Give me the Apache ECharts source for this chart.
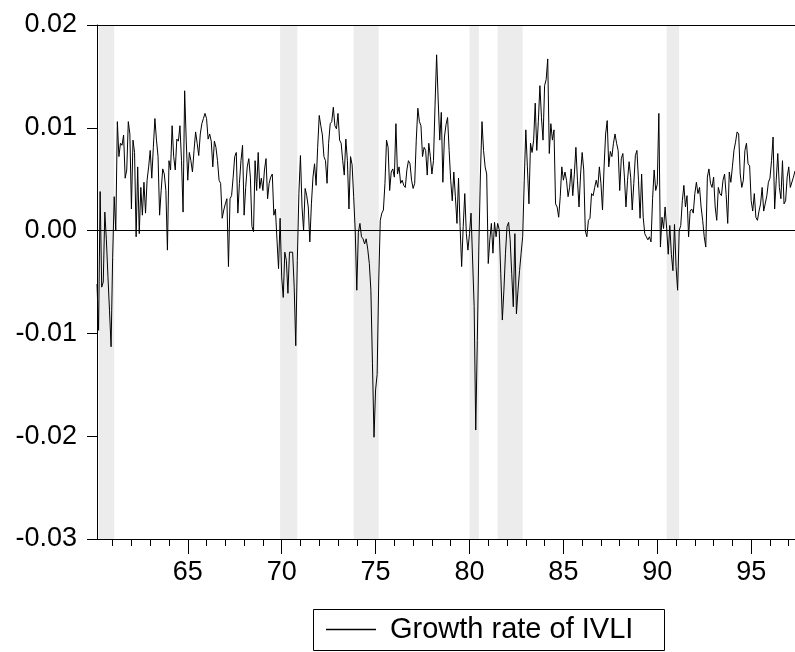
<!DOCTYPE html>
<html>
<head>
<meta charset="utf-8">
<script src="https://cdn.jsdelivr.net/npm/echarts@6/dist/echarts.min.js"></script>
<style>
  html, body { margin: 0; padding: 0; background: #ffffff; }
  #chart { width: 795px; height: 652px; }
</style>
</head>
<body>
<div id="chart"></div>
<script>
// Monthly growth rate of IVLI, first observation March 1960 (two-digit years on the axis)
const seriesName = 'Growth rate of IVLI';
const firstYear = 60;
const firstMonth = 3;

// Mar 1960 - Dec 1969
const g1960s = [
  -0.0052, -0.0097, 0.0038, -0.0055, -0.0050, 0.0018, -0.0009, -0.0045, -0.0078, -0.0113,
  -0.0026, 0.0033, 0.0000, 0.0106, 0.0072, 0.0085, 0.0083, 0.0093, 0.0051, 0.0059,
  0.0106, 0.0094, 0.0021, 0.0088, 0.0076, -0.0006, 0.0062, -0.0003, 0.0042, 0.0015,
  0.0047, 0.0017, 0.0049, 0.0062, 0.0078, 0.0051, 0.0081, 0.0109, 0.0088, 0.0072,
  0.0015, 0.0039, 0.0060, 0.0055, 0.0039, -0.0019, 0.0068, 0.0059, 0.0102, 0.0072,
  0.0059, 0.0089, 0.0087, 0.0102, 0.0068, 0.0018, 0.0136, 0.0088, 0.0049, 0.0076,
  0.0068, 0.0057, 0.0078, 0.0096, 0.0085, 0.0073, 0.0094, 0.0104, 0.0109, 0.0114,
  0.0109, 0.0089, 0.0094, 0.0087, 0.0062, 0.0087, 0.0081, 0.0068, 0.0049, 0.0046,
  0.0012, 0.0020, 0.0026, 0.0031, -0.0035, 0.0031, 0.0034, 0.0052, 0.0072, 0.0076,
  0.0017, 0.0046, 0.0068, 0.0083, 0.0015, 0.0042, 0.0062, 0.0070, 0.0052, 0.0004,
  -0.0001, 0.0068, 0.0039, 0.0076, 0.0041, 0.0051, 0.0039, 0.0059, 0.0070, 0.0031,
  0.0046, 0.0052, 0.0055, 0.0015, 0.0021, -0.0009, -0.0037, 0.0012
];

// Jan 1970 - Dec 1979
const g1970s = [
  -0.0045, -0.0065, -0.0021, -0.0029, -0.0061, -0.0021, -0.0020, -0.0021, -0.0055, -0.0112,
  -0.0029, 0.0036, 0.0073, 0.0023, 0.0000, 0.0041, 0.0034, 0.0023, -0.0011, 0.0026,
  0.0052, 0.0065, 0.0044, 0.0081, 0.0112, 0.0102, 0.0093, 0.0072, 0.0068, 0.0046,
  0.0085, 0.0104, 0.0106, 0.0120, 0.0102, 0.0099, 0.0114, 0.0088, 0.0085, 0.0068,
  0.0054, 0.0089, 0.0068, 0.0021, 0.0072, 0.0064, 0.0033, 0.0000, -0.0058, -0.0002,
  0.0007, -0.0006, -0.0008, -0.0013, -0.0008, -0.0018, -0.0032, -0.0058, -0.0129, -0.0201,
  -0.0155, -0.0140, -0.0050, 0.0010, 0.0017, 0.0020, 0.0046, 0.0088, 0.0081, 0.0039,
  0.0057, 0.0060, 0.0052, 0.0104, 0.0055, 0.0062, 0.0046, 0.0049, 0.0044, 0.0042,
  0.0059, 0.0068, 0.0065, 0.0049, 0.0041, 0.0046, 0.0088, 0.0119, 0.0106, 0.0102,
  0.0072, 0.0081, 0.0078, 0.0054, 0.0085, 0.0072, 0.0055, 0.0068, 0.0122, 0.0171,
  0.0127, 0.0088, 0.0115, 0.0047, 0.0091, 0.0103, 0.0110, 0.0078, 0.0049, 0.0029,
  0.0057, 0.0033, 0.0007, 0.0051, 0.0004, -0.0035, 0.0004, 0.0036, -0.0003, -0.0019
];

// Jan 1980 - Dec 1989
const g1980s = [
  -0.0003, 0.0017, 0.0017, -0.0074, -0.0194, -0.0107, -0.0015, 0.0055, 0.0106, 0.0078,
  0.0062, 0.0055, -0.0032, -0.0009, 0.0007, -0.0022, 0.0008, -0.0006, 0.0007, 0.0001,
  -0.0042, -0.0087, -0.0058, -0.0022, 0.0004, 0.0008, -0.0009, -0.0042, -0.0074, -0.0003,
  -0.0081, -0.0058, -0.0039, -0.0022, -0.0006, 0.0049, 0.0098, 0.0062, 0.0026, 0.0085,
  0.0076, 0.0088, 0.0124, 0.0078, 0.0106, 0.0141, 0.0110, 0.0088, 0.0141, 0.0147,
  0.0167, 0.0075, 0.0104, 0.0088, 0.0098, 0.0026, 0.0023, 0.0013, 0.0033, 0.0062,
  0.0049, 0.0057, 0.0049, 0.0033, 0.0042, 0.0060, 0.0034, 0.0055, 0.0081, 0.0049,
  0.0023, 0.0055, 0.0076, 0.0059, 0.0000, -0.0006, 0.0010, 0.0012, 0.0036, 0.0034,
  0.0042, 0.0049, 0.0042, 0.0062, 0.0046, 0.0020, 0.0062, 0.0094, 0.0107, 0.0062,
  0.0077, 0.0072, 0.0085, 0.0094, 0.0085, 0.0078, 0.0039, 0.0070, 0.0075, 0.0052,
  0.0023, 0.0049, 0.0067, 0.0052, 0.0020, 0.0046, 0.0073, 0.0078, 0.0049, 0.0012,
  0.0055, 0.0013, -0.0003, -0.0006, -0.0009, -0.0006, -0.0011, 0.0031, 0.0059, 0.0039
];

// Jan 1990 - May 1997
const g1990s = [
  0.0045, 0.0114, -0.0016, 0.0013, 0.0002, 0.0023, 0.0002, -0.0023, 0.0005, -0.0023,
  -0.0039, 0.0006, -0.0035, -0.0058, 0.0000, 0.0005, 0.0029, 0.0044, 0.0023, 0.0034,
  -0.0006, 0.0019, 0.0021, 0.0017, 0.0036, 0.0047, 0.0036, 0.0042, 0.0023, 0.0010,
  -0.0006, -0.0016, 0.0052, 0.0060, 0.0046, 0.0042, 0.0052, 0.0023, 0.0010, 0.0042,
  0.0036, 0.0034, 0.0049, 0.0055, 0.0035, 0.0007, 0.0057, 0.0047, 0.0062, 0.0078,
  0.0086, 0.0096, 0.0094, 0.0055, 0.0042, 0.0049, 0.0078, 0.0085, 0.0065, 0.0063,
  0.0029, 0.0019, 0.0036, 0.0013, 0.0010, 0.0019, 0.0026, 0.0042, 0.0019, 0.0019,
  0.0034, 0.0047, 0.0051, 0.0068, 0.0091, 0.0021, 0.0049, 0.0075, 0.0042, 0.0031,
  0.0068, 0.0026, 0.0029, 0.0052, 0.0062, 0.0042, 0.0041, 0.0052, 0.0058
];

// Shaded recession periods, [first month, last month]
const recessions = [
  ['1960-04', '1961-02'],
  ['1969-12', '1970-11'],
  ['1973-11', '1975-03'],
  ['1980-01', '1980-07'],
  ['1981-07', '1982-11'],
  ['1990-07', '1991-03']
];

// Axis ticks and labels
const yMin = -0.03, yMax = 0.02, yStep = 0.01;
const yearTicks = [61, 62, 63, 64, 65, 66, 67, 68, 69, 70, 71, 72, 73, 74, 75, 76, 77, 78, 79,
                   80, 81, 82, 83, 84, 85, 86, 87, 88, 89, 90, 91, 92, 93, 94, 95, 96, 97];
const yearLabels = [65, 70, 75, 80, 85, 90, 95];

// ---- build the series ----
const growth = [].concat(g1960s, g1970s, g1980s, g1990s);
const startX = firstYear + (firstMonth - 1) / 12;
const points = growth.map((v, i) => [startX + i / 12, v]);
const endX = startX + (growth.length - 1) / 12;

function monthToX(s) {
  const [y, m] = s.split('-').map(Number);
  return (y - 1900) + (m - 1) / 12;
}

const FONT = 'Liberation Sans, Arial, Helvetica, sans-serif';
const chart = echarts.init(document.getElementById('chart'), null, { renderer: 'canvas' });

const baseX = {
  type: 'value',
  min: startX,
  max: endX,
  position: 'bottom',
  splitLine: { show: false }
};

chart.setOption({
  animation: false,
  backgroundColor: '#ffffff',
  grid: { left: 97, top: 25, width: 698, height: 514, show: false },
  xAxis: [
    Object.assign({}, baseX, {
      z: 10,
      axisLine: { show: true, onZero: false, lineStyle: { color: '#000', width: 1 } },
      axisTick: { show: true, customValues: yearTicks, length: 7, inside: false,
                  lineStyle: { color: '#000', width: 1 } },
      axisLabel: { show: false }
    }),
    Object.assign({}, baseX, {
      z: 10,
      axisLine: { show: false, onZero: false },
      axisTick: { show: true, customValues: yearLabels, length: 15, inside: false,
                  lineStyle: { color: '#000', width: 1 } },
      axisLabel: { show: true, customValues: yearLabels, margin: 20,
                   color: '#000', fontFamily: FONT, fontSize: 27,
                   formatter: v => String(Math.round(v)) }
    }),
    Object.assign({}, baseX, {
      position: 'top',
      z: 10,
      axisLine: { show: true, onZero: false, lineStyle: { color: '#000', width: 1 } },
      axisTick: { show: false },
      axisLabel: { show: false }
    })
  ],
  yAxis: {
    type: 'value',
    min: yMin,
    max: yMax,
    interval: yStep,
    z: 10,
    axisLine: { show: true, onZero: false, lineStyle: { color: '#000', width: 1 } },
    axisTick: { show: true, length: 10, inside: false, lineStyle: { color: '#000', width: 1 } },
    axisLabel: { color: '#000', fontFamily: FONT, fontSize: 27, margin: 20,
                 formatter: v => (Math.abs(v) < 1e-9 ? 0 : v).toFixed(2) },
    splitLine: { show: false }
  },
  legend: {
    data: [{ name: seriesName, icon: 'rect', itemStyle: { color: '#000' } }],
    left: 326,
    top: 615,
    itemWidth: 50,
    itemHeight: 1.4,
    itemGap: 0,
    padding: 0,
    textStyle: { color: '#000', fontFamily: FONT, fontSize: 29, padding: [0, 0, 0, 9] },
    selectedMode: false
  },
  // frame around the legend
  graphic: [{
    type: 'rect',
    silent: true,
    shape: { x: 313.5, y: 609.5, width: 351, height: 41 },
    style: { fill: 'none', stroke: '#000', lineWidth: 1 }
  }],
  series: [
    {
      name: 'recessions',
      type: 'line',
      data: [],
      z: 1,
      silent: true,
      markArea: {
        silent: true,
        itemStyle: { color: '#ececec' },
        data: recessions.map(r => [{ xAxis: monthToX(r[0]) }, { xAxis: monthToX(r[1]) }])
      }
    },
    {
      name: seriesName,
      type: 'line',
      data: points,
      z: 5,
      showSymbol: false,
      symbol: 'none',
      lineStyle: { color: '#000', width: 1 },
      markLine: {
        silent: true,
        symbol: ['none', 'none'],
        label: { show: false },
        lineStyle: { color: '#000', width: 1, type: 'solid' },
        data: [{ yAxis: 0 }]
      }
    }
  ]
});
</script>
</body>
</html>
